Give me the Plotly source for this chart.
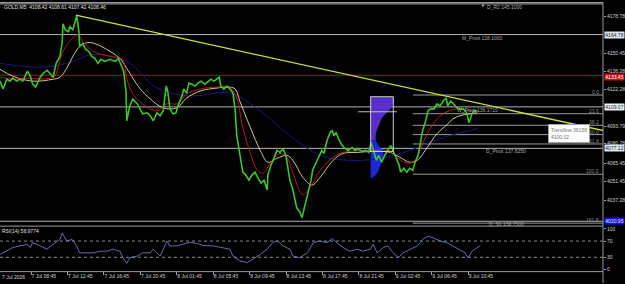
import plotly.graph_objects as go

# ---------------- data ----------------
symbol_header = "GOLD,M5  4108.42 4108.61 4107.42 4108.46"

price_bar = [0, 4, 9, 13, 17, 22, 26, 30, 36, 40, 43, 47, 53, 57, 62, 66, 70, 74, 79, 82, 83, 86, 90, 92, 96, 99, 101,
             104, 105, 109, 113, 117, 121, 125, 129, 133, 138, 145, 152, 156, 159, 163, 166, 167, 171, 175, 181, 184,
             188, 194, 198, 202, 207, 211, 215, 219, 221, 224, 228, 232, 235, 240, 242, 246, 249, 253, 257, 261, 265,
             270, 274, 278, 282, 286, 289, 291, 295, 299, 303, 307, 310, 312, 315, 318, 320, 324, 328, 332, 336, 340,
             344, 348, 352, 353, 357, 361, 365, 369, 373, 377, 380, 382, 386, 389, 391, 395, 398, 402, 406, 410, 412,
             416, 420, 424, 427, 431, 435, 438, 440, 443, 447, 451, 455, 459, 464, 468, 472, 477, 482, 486, 489, 492,
             496, 499, 503, 507, 511, 515, 518, 522, 526, 528, 532, 536, 540, 544, 547, 551, 553, 557, 561, 564, 568,
             572, 576, 580, 584, 588, 590, 594, 598, 602, 606, 610, 615, 618, 622, 625, 629]
price_close = [4128.9, 4122.8, 4130.4, 4128.9, 4131.2, 4128.9, 4130.4, 4128.9, 4136.5, 4132.7, 4126.6, 4124.3, 4131.9,
               4135.0, 4137.3, 4135.0, 4131.9, 4142.6, 4147.9, 4159.4, 4173.1, 4168.5, 4167.0, 4170.8, 4168.5, 4174.6,
               4179.2, 4167.0, 4155.6, 4157.8, 4153.3, 4151.8, 4147.9, 4146.4, 4142.6, 4145.7, 4144.1, 4145.7, 4144.1,
               4146.4, 4142.6, 4136.5, 4121.3, 4098.4, 4109.8, 4115.2, 4111.3, 4107.5, 4103.7, 4104.5, 4102.2, 4098.4,
               4104.5, 4102.2, 4106.0, 4125.1, 4121.3, 4107.5, 4103.7, 4104.5, 4110.6, 4117.5, 4122.8, 4119.7, 4127.4,
               4126.6, 4125.1, 4127.4, 4128.9, 4126.6, 4128.9, 4130.4, 4128.9, 4130.4, 4131.9, 4125.1, 4122.8, 4125.1,
               4122.8, 4119.7, 4106.0, 4086.9, 4075.5, 4064.1, 4058.8, 4056.5, 4052.6, 4056.5, 4058.8, 4054.2, 4050.4,
               4052.6, 4045.0, 4056.5, 4064.1, 4069.4, 4075.5, 4073.9, 4077.0, 4070.9, 4060.3, 4052.6, 4045.0, 4037.4,
               4031.3, 4028.3, 4023.7, 4033.6, 4042.8, 4052.6, 4060.3, 4065.6, 4070.2, 4075.5, 4073.2, 4083.2, 4089.3,
               4090.8, 4086.9, 4089.3, 4083.2, 4079.3, 4077.0, 4075.5, 4077.8, 4075.5, 4077.0, 4074.8, 4075.5, 4073.9,
               4081.6, 4075.5, 4067.9, 4071.7, 4066.4, 4071.7, 4075.5, 4079.3, 4075.5, 4069.4, 4064.1, 4058.8, 4061.8,
               4058.8, 4061.8, 4060.3, 4066.4, 4071.7, 4079.3, 4090.8, 4098.4, 4106.0, 4107.5, 4107.5, 4111.3, 4109.8,
               4113.6, 4115.9, 4109.8, 4113.6, 4111.3, 4108.3, 4107.5, 4107.5, 4104.5, 4096.9, 4103.7, 4106.0, 4106.0]

ma_fast_bar = [0, 17, 36, 53, 66, 72, 83, 95, 103, 109, 123, 145, 161, 167, 175, 188, 207, 220, 233, 246, 264, 286, 303,
               312, 320, 330, 339, 347, 356, 369, 378, 386, 399, 409, 422, 439, 452, 484, 510, 523, 536, 547, 557, 571,
               584, 602, 619, 629]
ma_fast = [4131.9, 4130.4, 4131.2, 4130.4, 4131.2, 4132.7, 4151.8, 4161.6, 4164.7, 4159.4, 4151.8, 4147.9, 4145.7,
           4131.2, 4119.0, 4111.4, 4106.0, 4111.4, 4111.4, 4119.0, 4122.8, 4124.3, 4123.6, 4115.9, 4093.1, 4073.2,
           4060.3, 4058.0, 4065.6, 4073.2, 4070.2, 4058.0, 4041.2, 4047.3, 4060.3, 4070.2, 4074.0, 4075.5, 4075.5,
           4070.2, 4065.6, 4067.9, 4080.9, 4096.1, 4103.7, 4107.5, 4106.0, 4106.0]

ma_slow_bar = [0, 17, 43, 70, 79, 88, 96, 105, 115, 125, 145, 158, 167, 184, 198, 215, 233, 246, 264, 286, 303, 310,
               316, 330, 343, 353, 365, 378, 386, 399, 411, 422, 439, 452, 471, 492, 514, 527, 540, 550, 563, 576, 589,
               597, 606, 619, 629]
ma_slow = [4138.0, 4132.7, 4128.9, 4130.4, 4131.9, 4138.8, 4147.9, 4155.6, 4158.6, 4157.8, 4151.8, 4146.4, 4138.8,
           4123.5, 4115.2, 4108.3, 4108.3, 4115.9, 4121.3, 4123.6, 4124.3, 4122.8, 4113.6, 4093.1, 4075.5, 4066.4,
           4069.4, 4071.7, 4067.9, 4054.9, 4048.8, 4054.9, 4067.9, 4073.2, 4074.0, 4074.8, 4074.0, 4070.2, 4066.4,
           4067.9, 4077.8, 4088.5, 4095.3, 4099.9, 4102.2, 4103.7, 4104.5]

ma_long_bar = [0, 53, 88, 123, 167, 207, 250, 303, 343, 382, 422, 461, 501, 540, 580, 629]
ma_long = [4142.6, 4139.6, 4142.6, 4149.5, 4144.1, 4123.6, 4117.5, 4119.7, 4106.0, 4086.9, 4071.7, 4067.9, 4069.4,
           4075.5, 4084.7, 4092.3]

rsi_bar = [0, 9, 17, 26, 36, 40, 43, 53, 62, 70, 79, 82, 88, 95, 101, 105, 115, 123, 132, 141, 149, 158, 162, 167, 171,
           181, 188, 198, 202, 211, 220, 224, 233, 241, 250, 260, 268, 281, 294, 303, 307, 316, 326, 333, 343, 352, 360,
           366, 373, 382, 386, 395, 405, 413, 422, 431, 438, 444, 452, 461, 471, 478, 488, 492, 497, 505, 511, 518, 525,
           531, 540, 550, 557, 564, 571, 580, 589, 597, 606, 613, 617, 622, 626, 633]
rsi_val = [37, 45, 54, 58, 62, 54, 66, 58, 50, 62, 74, 90, 70, 74, 58, 41, 41, 41, 45, 45, 50, 45, 29, 15, 29, 33, 41,
           41, 50, 33, 70, 58, 58, 62, 67, 64, 59, 58, 54, 50, 33, 21, 17, 25, 37, 50, 67, 70, 58, 50, 33, 29, 41, 66,
           70, 66, 76, 66, 54, 45, 50, 45, 50, 62, 41, 54, 58, 41, 29, 41, 50, 58, 74, 82, 78, 70, 66, 58, 50, 41, 29,
           45, 50, 59]
rsi_label = "RSI(14) 58.9774"
rsi_levels = [70, 30]
rsi_tick_vals = [100, 70, 30, 0]

# volume profile (relative volume per price level)
profile_price = [4116.7, 4113.6, 4110.6, 4107.5, 4104.5, 4101.4, 4098.4, 4094.6, 4090.8, 4087.0, 4083.2, 4079.3,
                 4075.5, 4071.7, 4067.9, 4064.1, 4060.3, 4056.5, 4054.5]
profile_vol = [23, 23, 22, 20, 16, 12, 10, 8, 6, 5, 5, 8, 12, 13, 12, 10, 8, 5, 2]
profile_split = 4083.2
profile_box = {"start": 488.5, "end": 518.3, "high": 4116.9, "low": 4074.8}
profile_poc = {"start": 472, "end": 523, "price": 4105.3}

# fibonacci
fib_levels = [0.0, 23.6, 38.2, 50.0, 61.8, 100.0, 161.8]
fib_high = 4118.2
fib_low = 4057.2
fib_start_bar = 544

# trendline
trend_bar = [100, 795]
trend_price = [4179.7, 4090.8]
trend_label = "Trendline 36158<br>4100.02"

# horizontal levels
level_names = ["D_R2 145.1000", "M_Pivot 128.1000", "W_Pivot 136.1710", "D_Pivot 137.8250", "D_S1 138.7500"]
level_prices = [4188.4, 4164.78, 4109.07, 4077.12, 4020.95]
red_level = 4133.45

price_tick_vals = [4178.78, 4150.45, 4136.28, 4122.28, 4093.79, 4080.78, 4065.45, 4051.45, 4037.28]
price_tick_text = ["4178.78", "4150.45", "4136.28", "4122.28", "4093.79", "4080.78", "4065.45", "4051.45", "4037.28"]

time_tick_bar = [41, 89, 137, 185, 233, 281, 329, 377, 425, 473, 521, 569, 617]
time_tick_text = ["7 Jul 08:45", "7 Jul 12:45", "7 Jul 16:45", "7 Jul 20:45", "8 Jul 01:45", "8 Jul 05:45",
                  "8 Jul 09:45", "8 Jul 13:45", "8 Jul 17:45", "8 Jul 21:45", "9 Jul 02:45", "9 Jul 06:45",
                  "9 Jul 10:45"]
first_date_label = "7 Jul 2026"

# ---------------- figure ----------------
W, H = 625, 284
RIGHT = 22
PLOT_W = W - RIGHT
BAR_PX = 0.7588
X_MAX = PLOT_W / BAR_PX
FONT = "Liberation Sans"
FS = 5


def py(px):  # paper y from pixel row
    return 1 - px / H


def px_x(px):
    return px / PLOT_W


fig = go.Figure()

# volume profile
x0 = profile_box["start"]
scale = 1.318
top_p = [p for p in profile_price if p >= profile_split]
top_v = [v for p, v in zip(profile_price, profile_vol) if p >= profile_split]
bot_p = [p for p in profile_price if p <= profile_split]
bot_v = [v for p, v in zip(profile_price, profile_vol) if p <= profile_split]
for ps, vs, col in [(top_p, top_v, "rgba(92,48,210,0.95)"), (bot_p, bot_v, "rgba(30,40,225,0.95)")]:
    xs = [x0] + [x0 + v * scale for v in vs] + [x0]
    ys = [ps[0]] + ps + [ps[-1]]
    fig.add_trace(go.Scatter(x=xs, y=ys, fill="toself", fillcolor=col, line=dict(width=0, color=col),
                             mode="lines", xaxis="x", yaxis="y", hoverinfo="skip"))

# moving averages
fig.add_trace(go.Scatter(x=ma_long_bar, y=ma_long, mode="lines", line=dict(color="#1a1a80", width=1, shape="spline"),
                         xaxis="x", yaxis="y"))
fig.add_trace(go.Scatter(x=ma_slow_bar, y=ma_slow, mode="lines", line=dict(color="#e8dca8", width=0.9, shape="spline"),
                         xaxis="x", yaxis="y"))
fig.add_trace(go.Scatter(x=ma_fast_bar, y=ma_fast, mode="lines", line=dict(color="#c81e1e", width=0.9, shape="spline"),
                         xaxis="x", yaxis="y"))

# price
fig.add_trace(go.Scatter(x=price_bar, y=price_close, mode="lines", line=dict(color="#3fc42e", width=1.6),
                         xaxis="x", yaxis="y"))

# trendline
fig.add_trace(go.Scatter(x=trend_bar, y=trend_price, mode="lines", line=dict(color="#c4e23c", width=1.3),
                         xaxis="x", yaxis="y"))

# RSI
fig.add_trace(go.Scatter(x=rsi_bar, y=rsi_val, mode="lines", line=dict(color="#7d8cc8", width=0.8),
                         xaxis="x2", yaxis="y2"))

shapes = []
# full-width levels
for p in level_prices:
    shapes.append(dict(type="line", xref="x domain", x0=0, x1=1, yref="y", y0=p, y1=p,
                       line=dict(color="#b4b4b4", width=1), layer="below"))
shapes.append(dict(type="line", xref="x domain", x0=0, x1=1, yref="y", y0=red_level, y1=red_level,
                   line=dict(color="#9a1420", width=1.2), layer="below"))
# fib lines
for lv in fib_levels:
    p = fib_high - lv / 100 * (fib_high - fib_low)
    shapes.append(dict(type="line", xref="x", x0=fib_start_bar, x1=X_MAX, yref="y", y0=p, y1=p,
                       line=dict(color="#9a9a9a", width=1), layer="below"))
# profile box and poc
shapes.append(dict(type="rect", xref="x", yref="y", x0=profile_box["start"], x1=profile_box["end"],
                   y0=profile_box["low"], y1=profile_box["high"], line=dict(color="#d0d0d0", width=1)))
shapes.append(dict(type="line", xref="x", yref="y", x0=profile_poc["start"], x1=profile_poc["end"],
                   y0=profile_poc["price"], y1=profile_poc["price"], line=dict(color="#c0c0c0", width=1)))
# RSI levels
for lv in rsi_levels:
    shapes.append(dict(type="line", xref="x2 domain", x0=0, x1=1, yref="y2", y0=lv, y1=lv,
                       line=dict(color="#8a8a8a", width=1, dash="dot"), layer="below"))
# pane borders
for yy in [0.5, 226.5, 272.5]:
    shapes.append(dict(type="line", xref="paper", x0=0, x1=1, yref="paper", y0=py(yy), y1=py(yy),
                       line=dict(color="#9a9a9a", width=1)))
shapes.append(dict(type="line", xref="paper", x0=1, x1=1, yref="paper", y0=py(284), y1=py(0),
                   line=dict(color="#9a9a9a", width=1)))

ann = []
ann.append(dict(text=symbol_header, xref="paper", yref="paper", x=px_x(2), y=py(5), xanchor="left",
                yanchor="middle", showarrow=False, font=dict(family=FONT, size=FS, color="#e0e0e0")))
ann.append(dict(text=rsi_label, xref="paper", yref="paper", x=px_x(0), y=py(231), xanchor="left",
                yanchor="middle", showarrow=False, font=dict(family=FONT, size=FS, color="#e0e0e0")))
ann.append(dict(text=first_date_label, xref="paper", yref="paper", x=px_x(0), y=py(278), xanchor="left",
                yanchor="middle", showarrow=False, font=dict(family=FONT, size=FS, color="#d8d8d8")))
# level names
name_x = [485, 460, 455, 484, 487]
for nm, p, nx in zip(level_names, level_prices, name_x):
    ann.append(dict(text=nm, xref="paper", yref="y", x=px_x(nx), y=p, yshift=-3, xanchor="left",
                    yanchor="middle", showarrow=False, font=dict(family=FONT, size=FS, color="#a8a8a8")))
ann.append(dict(text="▼", xref="paper", yref="y", x=px_x(479), y=level_prices[0], yshift=-2, xanchor="left",
                yanchor="middle", showarrow=False, font=dict(family=FONT, size=4, color="#e0e0e0")))
# fib labels
for lv in fib_levels:
    p = fib_high - lv / 100 * (fib_high - fib_low)
    ann.append(dict(text=f"{lv:.1f}", xref="paper", yref="y", x=px_x(601), y=p, yshift=3, xanchor="right",
                    yanchor="middle", showarrow=False, font=dict(family=FONT, size=FS, color="#8c8c8c")))
# trendline tooltip
ann.append(dict(text=trend_label, xref="paper", yref="paper", x=px_x(548), y=py(133), xanchor="left",
                yanchor="middle", showarrow=False, align="left", bgcolor="#ffffff", bordercolor="#a0a0a0",
                borderwidth=1, borderpad=2, font=dict(family=FONT, size=FS, color="#707070")))
# highlighted price labels
hl = [(level_prices[1], "4164.78", "#dce8f4", "#202020", 0), (level_prices[2], "4109.07", "#eef2f6", "#202020", 0),
      (level_prices[3], "4077.12", "#dce8f4", "#202020", 0), (level_prices[4], "4020.95", "#1010f0", "#e8e8ff", 0),
      (red_level, "4133.45", "#d01010", "#ffffff", -1.5)]
for p, t, bg, fc, ys in hl:
    ann.append(dict(text=t, xref="paper", yref="y", x=1, xshift=1, y=p, yshift=ys, xanchor="left",
                    yanchor="middle", showarrow=False, bgcolor=bg, borderpad=0, width=19,
                    font=dict(family=FONT, size=FS, color=fc)))

axis_font = dict(family=FONT, size=FS, color="#d0d0d0")
fig.update_layout(
    width=W, height=H, margin=dict(l=0, r=RIGHT, t=0, b=0),
    paper_bgcolor="#000000", plot_bgcolor="#000000", showlegend=False, hovermode=False,
    shapes=shapes, annotations=ann,
    xaxis=dict(domain=[0, 1], range=[0, X_MAX], anchor="y", showgrid=False, zeroline=False,
               showticklabels=False, ticks=""),
    yaxis=dict(domain=[py(226), py(1)], range=[4017.6, 4189.1], side="right", anchor="x", showgrid=False,
               zeroline=False, tickvals=price_tick_vals, ticktext=price_tick_text, ticks="outside", ticklen=2,
               tickcolor="#a0a0a0", tickfont=axis_font),
    xaxis2=dict(domain=[0, 1], range=[0, X_MAX], anchor="y2", matches="x", showgrid=False, zeroline=False,
                tickvals=time_tick_bar, ticktext=time_tick_text, ticks="outside", ticklen=3, tickcolor="#a0a0a0",
                ticklabelposition="outside right", tickfont=axis_font),
    yaxis2=dict(domain=[py(272), py(228)], range=[-4.1, 103.2], side="right", anchor="x2", showgrid=False,
                zeroline=False, tickvals=rsi_tick_vals, ticktext=[str(v) for v in rsi_tick_vals],
                ticks="outside", ticklen=2, tickcolor="#a0a0a0", tickfont=axis_font),
)

fig.write_html("out.html")
